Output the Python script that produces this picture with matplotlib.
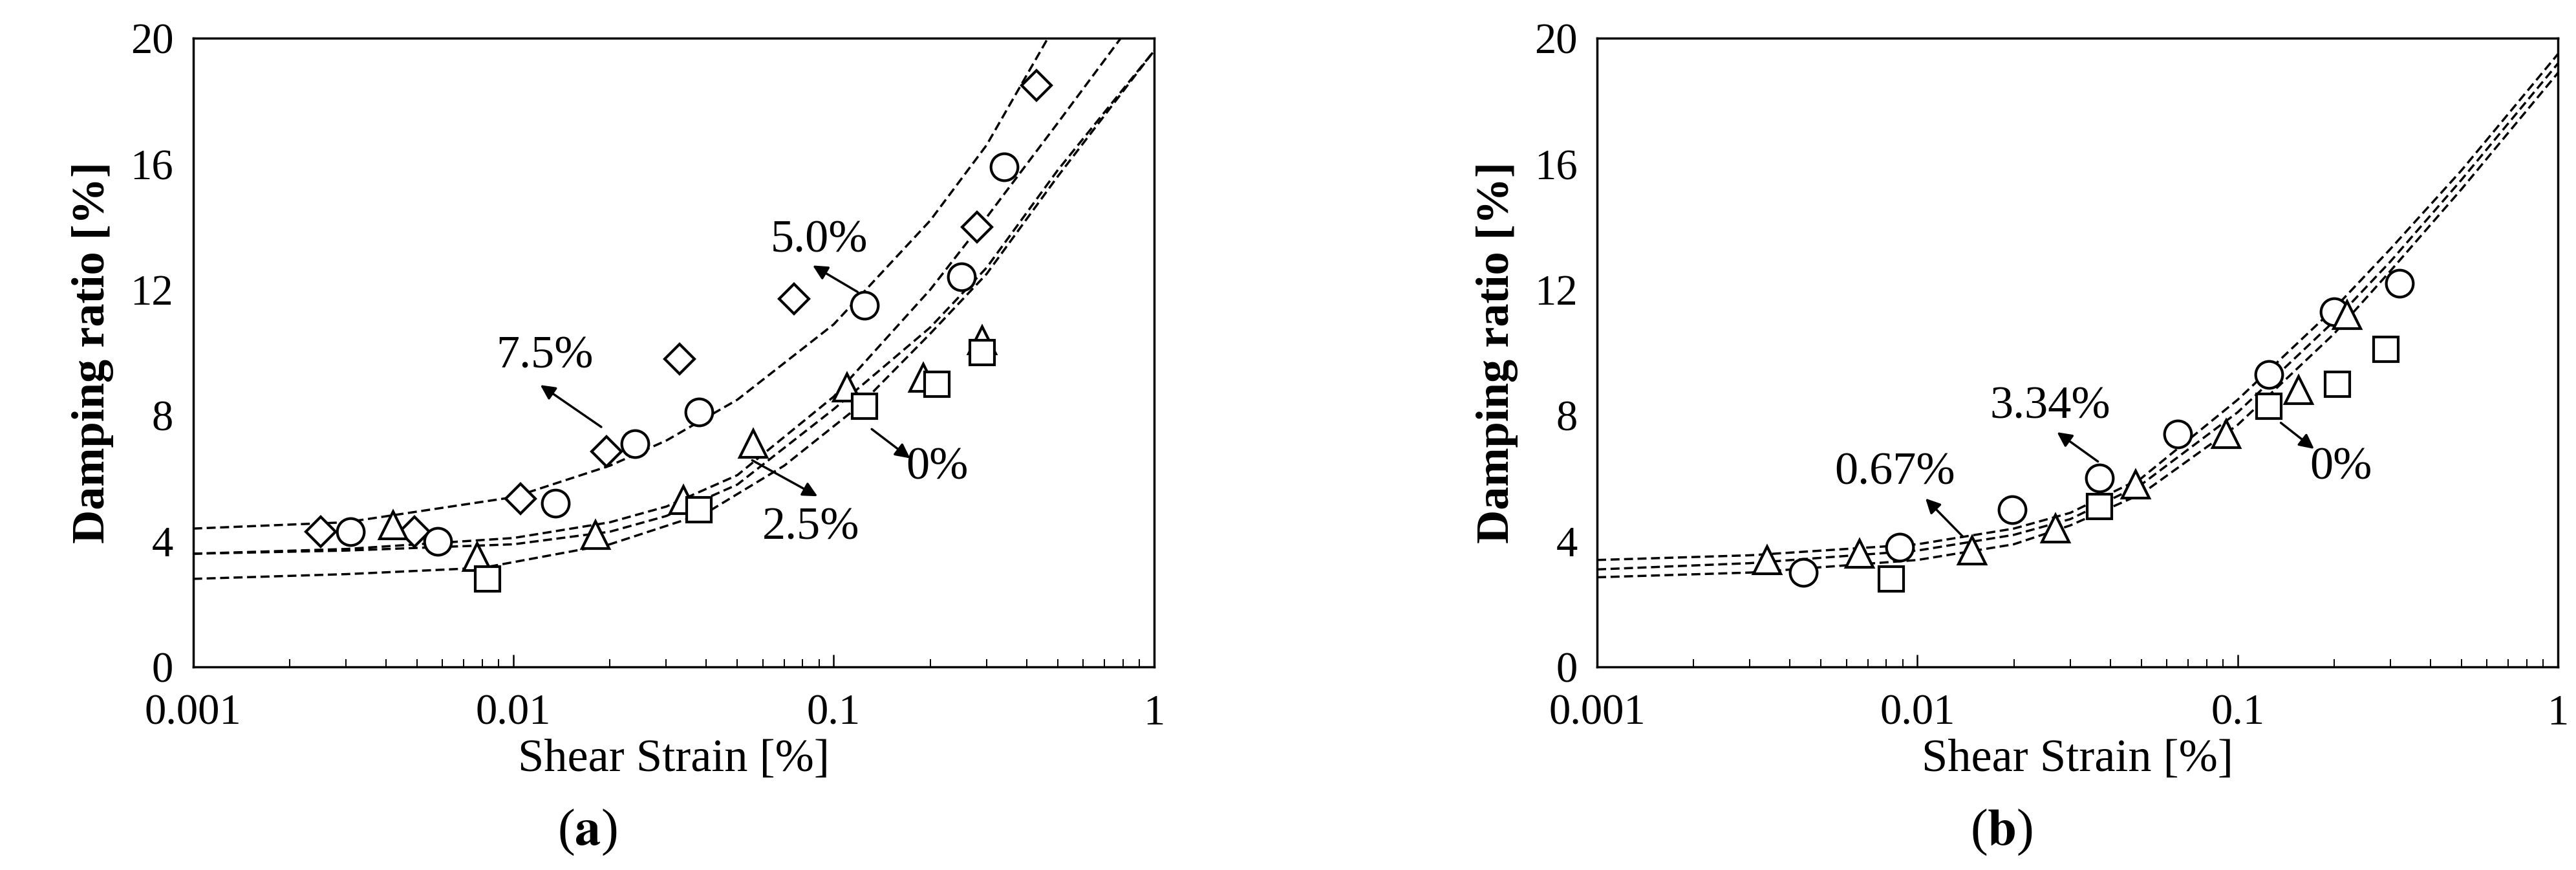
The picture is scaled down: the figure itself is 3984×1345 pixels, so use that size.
import matplotlib
matplotlib.use("Agg")
import matplotlib.pyplot as plt
from matplotlib.ticker import FixedLocator, LogLocator, NullFormatter

plt.rcParams['font.family'] = ['Liberation Serif', 'DejaVu Serif']

# ---- panel (a) data ----
a_dia_x = [0.0025, 0.0049, 0.0105, 0.0195, 0.033, 0.075, 0.28, 0.43]
a_dia_y = [4.3, 4.3, 5.35, 6.85, 9.8, 11.7, 14.0, 18.5]
a_cir_x = [0.0031, 0.0058, 0.0135, 0.024, 0.038, 0.125, 0.25, 0.34]
a_cir_y = [4.3, 4.0, 5.2, 7.1, 8.1, 11.5, 12.4, 15.9]
a_tri_x = [0.0042, 0.0077, 0.018, 0.034, 0.056, 0.11, 0.19, 0.29]
a_tri_y = [4.5, 3.5, 4.2, 5.3, 7.1, 8.9, 9.2, 10.4]
a_sq_x = [0.0083, 0.038, 0.125, 0.21, 0.29]
a_sq_y = [2.8, 5.0, 8.3, 9.0, 10.0]

# fitted curves
a_c1_x = [0.001, 0.003, 0.01, 0.02, 0.03, 0.05, 0.1, 0.2, 0.3, 0.466]
a_c1_y = [4.4, 4.6, 5.4, 6.4, 7.2, 8.5, 10.9, 14.2, 16.6, 20.0]
a_c2_x = [0.001, 0.003, 0.01, 0.02, 0.03, 0.05, 0.1, 0.2, 0.3, 0.5, 0.787]
a_c2_y = [3.6, 3.75, 4.1, 4.6, 5.1, 6.1, 8.6, 12.0, 14.3, 17.3, 20.0]
a_c3_x = [0.001, 0.003, 0.01, 0.02, 0.03, 0.05, 0.1, 0.2, 0.3, 0.5, 1.0]
a_c3_y = [3.6, 3.7, 3.9, 4.3, 4.8, 5.8, 8.2, 10.8, 12.7, 15.8, 19.6]
a_c4_x = [0.001, 0.003, 0.008, 0.02, 0.04, 0.07, 0.12, 0.2, 0.3, 0.5, 1.0]
a_c4_y = [2.8, 2.95, 3.15, 3.9, 4.9, 6.4, 8.3, 10.6, 12.5, 15.6, 19.6]

# ---- panel (b) data ----
b_tri_x = [0.0034, 0.0066, 0.0148, 0.027, 0.048, 0.092, 0.155, 0.22]
b_tri_y = [3.4, 3.6, 3.7, 4.4, 5.8, 7.4, 8.8, 11.2]
b_cir_x = [0.0044, 0.0088, 0.0198, 0.037, 0.065, 0.125, 0.2, 0.32]
b_cir_y = [3.0, 3.8, 5.0, 6.0, 7.4, 9.3, 11.3, 12.2]
b_sq_x = [0.0083, 0.037, 0.125, 0.205, 0.29]
b_sq_y = [2.8, 5.1, 8.3, 9.0, 10.1]

b_cx = [0.001, 0.003, 0.01, 0.02, 0.03, 0.05, 0.1, 0.2, 0.3, 0.5, 1.0]
b_c1_y = [3.4, 3.55, 3.9, 4.4, 4.9, 6.0, 8.5, 11.4, 13.3, 15.8, 19.5]
b_c2_y = [3.1, 3.3, 3.7, 4.2, 4.7, 5.8, 8.1, 11.0, 12.9, 15.5, 19.2]
b_c3_y = [2.85, 3.0, 3.4, 3.9, 4.5, 5.5, 7.7, 10.6, 12.6, 15.2, 18.9]

fig = plt.figure(figsize=(39.84, 13.45), dpi=100)
ax_a = fig.add_axes([0.075, 0.2335, 0.373, 0.7225])
ax_b = fig.add_axes([0.620, 0.2335, 0.373, 0.7225])

mk = dict(linestyle='none', markerfacecolor='white', markeredgecolor='black',
          markeredgewidth=3, markersize=30)
dash = dict(color='black', linestyle=(0, (4, 2)), linewidth=2.5)

for cx, cy in [(a_c1_x, a_c1_y), (a_c2_x, a_c2_y), (a_c3_x, a_c3_y), (a_c4_x, a_c4_y)]:
    ax_a.plot(cx, cy, **dash)
ax_a.plot(a_dia_x, a_dia_y, marker='D', **{**mk, 'markersize': 23})
ax_a.plot(a_cir_x, a_cir_y, marker='o', **mk)
ax_a.plot(a_tri_x, a_tri_y, marker='^', **mk)
ax_a.plot(a_sq_x, a_sq_y, marker='s', **{**mk, 'markersize': 28})

for cy in [b_c1_y, b_c2_y, b_c3_y]:
    ax_b.plot(b_cx, cy, **dash)
ax_b.plot(b_cir_x, b_cir_y, marker='o', **mk)
ax_b.plot(b_tri_x, b_tri_y, marker='^', **mk)
ax_b.plot(b_sq_x, b_sq_y, marker='s', **{**mk, 'markersize': 28})

arr = dict(arrowstyle='-|>', color='black', lw=2.5, mutation_scale=34)
tfs = 52
ax_a.annotate('', xy=(0.085, 12.8), xytext=(0.12, 11.9), arrowprops=arr)
ax_a.text(0.09, 12.9, '5.0%', fontsize=tfs, ha='center', va='bottom')
ax_a.annotate('', xy=(0.012, 9.0), xytext=(0.019, 7.6), arrowprops=arr)
ax_a.text(0.0125, 9.2, '7.5%', fontsize=tfs, ha='center', va='bottom')
ax_a.annotate('', xy=(0.175, 6.6), xytext=(0.13, 7.6), arrowprops=arr)
ax_a.text(0.21, 7.0, '0%', fontsize=tfs, ha='center', va='top')
ax_a.annotate('', xy=(0.09, 5.4), xytext=(0.055, 6.6), arrowprops=arr)
ax_a.text(0.085, 5.1, '2.5%', fontsize=tfs, ha='center', va='top')

ax_b.annotate('', xy=(0.027, 7.5), xytext=(0.037, 6.5), arrowprops=arr)
ax_b.text(0.026, 7.6, '3.34%', fontsize=tfs, ha='center', va='bottom')
ax_b.annotate('', xy=(0.0105, 5.4), xytext=(0.014, 4.1), arrowprops=arr)
ax_b.text(0.0085, 5.5, '0.67%', fontsize=tfs, ha='center', va='bottom')
ax_b.annotate('', xy=(0.175, 6.9), xytext=(0.135, 7.8), arrowprops=arr)
ax_b.text(0.21, 7.0, '0%', fontsize=tfs, ha='center', va='top')

for ax in (ax_a, ax_b):
    ax.set_xscale('log')
    ax.set_xlim(0.001, 1)
    ax.set_ylim(0, 20)
    ax.set_yticks([0, 4, 8, 12, 16, 20])
    ax.xaxis.set_major_locator(FixedLocator([0.001, 0.01, 0.1, 1]))
    ax.set_xticklabels(['0.001', '0.01', '0.1', '1'])
    ax.xaxis.set_minor_locator(LogLocator(base=10, subs=range(2, 10)))
    ax.xaxis.set_minor_formatter(NullFormatter())
    ax.tick_params(axis='both', which='major', direction='in', labelsize=48,
                   length=14, width=1.8)
    ax.tick_params(axis='x', which='major', pad=30)
    ax.tick_params(axis='y', which='major', pad=22, length=0)
    ax.tick_params(axis='x', which='minor', direction='in', length=9, width=1.4)
    for s in ax.spines.values():
        s.set_linewidth(2.5)
    ax.set_xlabel('Shear Strain [%]', fontsize=52, labelpad=6)
    ax.set_ylabel('Damping ratio [%]', fontsize=52, fontweight='bold', labelpad=18)

for xc, letter in [(0.228, 'a'), (0.777, 'b')]:
    fig.text(xc, 0.015, '(' + r'$\mathbf{' + letter + '}$' + ')', fontsize=58,
             ha='center', va='bottom', math_fontfamily='stix')

fig.savefig('out.png', dpi=100, facecolor='white')
